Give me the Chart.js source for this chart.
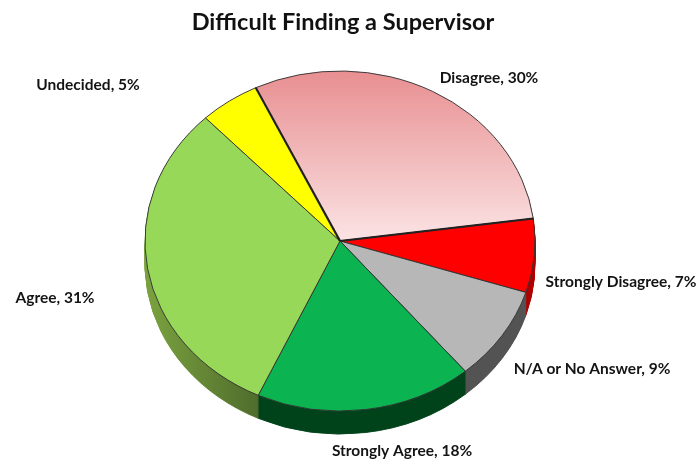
<!DOCTYPE html>
<html>
<head>
<meta charset="utf-8">
<title>Difficult Finding a Supervisor</title>
<script src="https://cdn.jsdelivr.net/npm/chart.js@4"></script>
<style>
    html, body { margin: 0; padding: 0; background: #fff; }
    canvas { display: block; }
</style>
</head>
<body>
<canvas id="pieChart" width="699" height="462"></canvas>
<script>
const categories = ['Disagree', 'Strongly Disagree', 'N/A or No Answer', 'Strongly Agree', 'Agree', 'Undecided'];
const percentages = [30, 7, 9, 18, 31, 5];

const topColors = ['#f3bcbc', '#ff0000', '#b7b7b7', '#0bb451', '#98d858', '#ffff00'];
const sideColors = ['#a86a6a', '#b00000', '#545454', '#00441c', '#5f8236', '#a8a800'];

// where the labels sit, text centres in page pixels
const labelX = [489, 621, 592, 402, 55, 88];
const labelY = [78, 282, 369, 451, 298, 85];

const pieX = 340;
const pieY = 241;
const pieRadius = 195;
const squash = 170 / 195;
const pieDepth = 23;

function drawWith(arc, ctx, changes) {
    const saved = arc.options;
    arc.options = Object.assign({}, saved, changes);
    arc.draw(ctx);
    arc.options = saved;
}

function moveToPie(ctx, arc, drop) {
    ctx.translate(pieX, pieY + drop);
    ctx.scale(1, squash);
    ctx.translate(-arc.x, -arc.y);
}

const tiltedPie = {
    id: 'tiltedPie',
    beforeDatasetDraw(chart, args) {
        const ctx = chart.ctx;
        const arcs = args.meta.data;

        // side wall: the same arcs stacked downwards in a dark colour
        for (let drop = pieDepth; drop > 0; drop--) {
            ctx.save();
            moveToPie(ctx, arcs[0], drop);
            arcs.forEach((arc, i) => {
                let fill = sideColors[i];
                if (categories[i] === 'Agree') {
                    const g = ctx.createLinearGradient(arc.x - pieRadius, 0, arc.x - 80, 0);
                    g.addColorStop(0, '#7ba23f');
                    g.addColorStop(1, '#4f6c2c');
                    fill = g;
                }
                drawWith(arc, ctx, { backgroundColor: fill, borderColor: fill, borderWidth: 1 });
            });
            ctx.restore();
        }

        ctx.save();
        moveToPie(ctx, arcs[0], 0);
    },
    afterDatasetDraw(chart, args) {
        const ctx = chart.ctx;
        const arcs = args.meta.data;

        // the two heavier spokes around the Disagree slice
        const first = arcs[0];
        ctx.strokeStyle = '#222';
        ctx.lineWidth = 2.2;
        [first.startAngle, first.endAngle].forEach(a => {
            ctx.beginPath();
            ctx.moveTo(first.x, first.y);
            ctx.lineTo(first.x + pieRadius * Math.cos(a), first.y + pieRadius * Math.sin(a));
            ctx.stroke();
        });
        ctx.restore();

        ctx.save();
        ctx.font = 'bold 15.5px Lato';
        ctx.fillStyle = '#141414';
        ctx.textAlign = 'center';
        ctx.textBaseline = 'middle';
        categories.forEach((name, i) => {
            ctx.fillText(`${name}, ${percentages[i]}%`, labelX[i], labelY[i]);
        });
        ctx.restore();
    }
};

new Chart(document.getElementById('pieChart'), {
    type: 'pie',
    plugins: [tiltedPie],
    data: {
        labels: categories,
        datasets: [{
            data: percentages,
            clip: false,
            backgroundColor(c) {
                const area = c.chart.chartArea;
                if (c.dataIndex !== 0 || !area) {
                    return topColors[c.dataIndex];
                }
                const middle = (area.top + area.bottom) / 2;
                const g = c.chart.ctx.createLinearGradient(0, middle - pieRadius, 0, middle);
                g.addColorStop(0, '#e88f91');
                g.addColorStop(1, '#fbe4e4');
                return g;
            },
            borderColor: '#333',
            borderWidth: 1
        }]
    },
    options: {
        responsive: false,
        animation: false,
        radius: pieRadius,
        rotation: -25.6,
        layout: { padding: { left: 0, right: 13, top: 0, bottom: 0 } },
        plugins: {
            legend: { display: false },
            tooltip: { enabled: false },
            title: {
                display: true,
                text: 'Difficult Finding a Supervisor',
                color: '#111',
                font: { family: 'Lato', size: 23.5, weight: 'bold' },
                padding: { top: 8, bottom: 10 }
            }
        }
    }
});
</script>
</body>
</html>
